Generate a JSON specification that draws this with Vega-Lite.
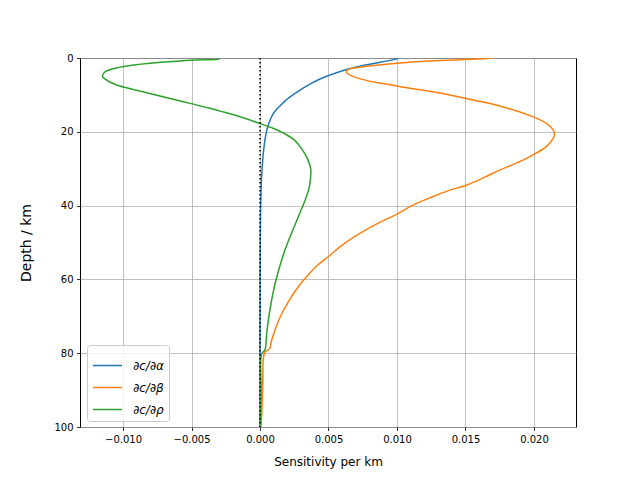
{
  "$schema": "https://vega.github.io/schema/vega-lite/v6.json",
  "width": 496,
  "height": 369,
  "autosize": {"type": "none"},
  "padding": {"left": 80, "top": 58, "right": 64, "bottom": 53},
  "background": "white",
  "config": {
    "font": "DejaVu Sans",
    "view": {"stroke": "black", "strokeWidth": 1},
    "axis": {
      "grid": true, "gridColor": "#b0b0b0", "gridWidth": 0.8,
      "domain": false, "tickColor": "black", "tickSize": 3.5, "tickWidth": 0.8,
      "labelFontSize": 10, "labelColor": "black", "labelFont": "DejaVu Sans", "labelPadding": 3.5,
      "titleFont": "DejaVu Sans", "titleFontWeight": "normal", "titleColor": "black"
    }
  },
  "datasets": {
    "curves": [
      {"s": "∂c/∂α", "d": 0, "v": 0.0101},
      {"s": "∂c/∂α", "d": 0.3, "v": 0.0099},
      {"s": "∂c/∂α", "d": 1.9, "v": 0.0077},
      {"s": "∂c/∂α", "d": 3.25, "v": 0.0062},
      {"s": "∂c/∂α", "d": 5.5, "v": 0.0045},
      {"s": "∂c/∂α", "d": 7.8, "v": 0.0033},
      {"s": "∂c/∂α", "d": 9.5, "v": 0.0026},
      {"s": "∂c/∂α", "d": 11.4, "v": 0.0019},
      {"s": "∂c/∂α", "d": 13.2, "v": 0.0014},
      {"s": "∂c/∂α", "d": 15, "v": 0.00098},
      {"s": "∂c/∂α", "d": 17.2, "v": 0.0007},
      {"s": "∂c/∂α", "d": 19.5, "v": 0.0005},
      {"s": "∂c/∂α", "d": 22.5, "v": 0.00035},
      {"s": "∂c/∂α", "d": 26.7, "v": 0.00022},
      {"s": "∂c/∂α", "d": 32, "v": 0.00012},
      {"s": "∂c/∂α", "d": 40, "v": 0.00005},
      {"s": "∂c/∂α", "d": 60, "v": 0.00001},
      {"s": "∂c/∂α", "d": 80, "v": 0},
      {"s": "∂c/∂α", "d": 100, "v": 0},
      {"s": "∂c/∂β", "d": 0, "v": 0.0170},
      {"s": "∂c/∂β", "d": 0.3, "v": 0.0158},
      {"s": "∂c/∂β", "d": 0.8, "v": 0.0124},
      {"s": "∂c/∂β", "d": 1.4, "v": 0.0100},
      {"s": "∂c/∂β", "d": 2.4, "v": 0.0075},
      {"s": "∂c/∂β", "d": 3.2, "v": 0.0064},
      {"s": "∂c/∂β", "d": 3.9, "v": 0.0063},
      {"s": "∂c/∂β", "d": 4.7, "v": 0.0066},
      {"s": "∂c/∂β", "d": 6.0, "v": 0.0077},
      {"s": "∂c/∂β", "d": 7.6, "v": 0.0100},
      {"s": "∂c/∂β", "d": 9.8, "v": 0.0136},
      {"s": "∂c/∂β", "d": 11.2, "v": 0.0153},
      {"s": "∂c/∂β", "d": 13.0, "v": 0.0175},
      {"s": "∂c/∂β", "d": 15.9, "v": 0.0199},
      {"s": "∂c/∂β", "d": 17.7, "v": 0.0209},
      {"s": "∂c/∂β", "d": 19.0, "v": 0.0213},
      {"s": "∂c/∂β", "d": 20.3, "v": 0.0215},
      {"s": "∂c/∂β", "d": 21.8, "v": 0.0214},
      {"s": "∂c/∂β", "d": 24.0, "v": 0.0209},
      {"s": "∂c/∂β", "d": 26.3, "v": 0.0199},
      {"s": "∂c/∂β", "d": 28.5, "v": 0.0187},
      {"s": "∂c/∂β", "d": 30.4, "v": 0.0175},
      {"s": "∂c/∂β", "d": 32.5, "v": 0.0163},
      {"s": "∂c/∂β", "d": 34.4, "v": 0.0151},
      {"s": "∂c/∂β", "d": 36.0, "v": 0.0137},
      {"s": "∂c/∂β", "d": 37.6, "v": 0.0126},
      {"s": "∂c/∂β", "d": 39.8, "v": 0.0112},
      {"s": "∂c/∂β", "d": 42.1, "v": 0.0101},
      {"s": "∂c/∂β", "d": 45.2, "v": 0.0084},
      {"s": "∂c/∂β", "d": 48.4, "v": 0.0069},
      {"s": "∂c/∂β", "d": 51.0, "v": 0.0059},
      {"s": "∂c/∂β", "d": 53.8, "v": 0.0050},
      {"s": "∂c/∂β", "d": 56.5, "v": 0.0041},
      {"s": "∂c/∂β", "d": 59.7, "v": 0.0033},
      {"s": "∂c/∂β", "d": 63.0, "v": 0.0026},
      {"s": "∂c/∂β", "d": 66.5, "v": 0.0020},
      {"s": "∂c/∂β", "d": 70.0, "v": 0.0015},
      {"s": "∂c/∂β", "d": 73.7, "v": 0.0011},
      {"s": "∂c/∂β", "d": 76.5, "v": 0.00085},
      {"s": "∂c/∂β", "d": 78.9, "v": 0.00068},
      {"s": "∂c/∂β", "d": 79.6, "v": 0.00036},
      {"s": "∂c/∂β", "d": 81.8, "v": 0.00024},
      {"s": "∂c/∂β", "d": 88.2, "v": 0.0002},
      {"s": "∂c/∂β", "d": 97.2, "v": 0.00012},
      {"s": "∂c/∂β", "d": 100, "v": 0.00005},
      {"s": "∂c/∂ρ", "d": 0, "v": -0.0030},
      {"s": "∂c/∂ρ", "d": 0.27, "v": -0.0030},
      {"s": "∂c/∂ρ", "d": 0.54, "v": -0.0047},
      {"s": "∂c/∂ρ", "d": 1.17, "v": -0.0072},
      {"s": "∂c/∂ρ", "d": 2.1, "v": -0.0096},
      {"s": "∂c/∂ρ", "d": 3.0, "v": -0.0108},
      {"s": "∂c/∂ρ", "d": 3.7, "v": -0.0113},
      {"s": "∂c/∂ρ", "d": 4.4, "v": -0.01145},
      {"s": "∂c/∂ρ", "d": 5.0, "v": -0.0115},
      {"s": "∂c/∂ρ", "d": 5.7, "v": -0.0113},
      {"s": "∂c/∂ρ", "d": 7.1, "v": -0.0106},
      {"s": "∂c/∂ρ", "d": 8.2, "v": -0.0096},
      {"s": "∂c/∂ρ", "d": 9.1, "v": -0.0086},
      {"s": "∂c/∂ρ", "d": 10.0, "v": -0.0076},
      {"s": "∂c/∂ρ", "d": 11.1, "v": -0.0064},
      {"s": "∂c/∂ρ", "d": 12.3, "v": -0.0051},
      {"s": "∂c/∂ρ", "d": 13.5, "v": -0.0038},
      {"s": "∂c/∂ρ", "d": 14.6, "v": -0.0027},
      {"s": "∂c/∂ρ", "d": 16.0, "v": -0.0014},
      {"s": "∂c/∂ρ", "d": 17.5, "v": -0.0002},
      {"s": "∂c/∂ρ", "d": 19.1, "v": 0.0010},
      {"s": "∂c/∂ρ", "d": 20.5, "v": 0.0018},
      {"s": "∂c/∂ρ", "d": 22.2, "v": 0.0025},
      {"s": "∂c/∂ρ", "d": 24.9, "v": 0.0031},
      {"s": "∂c/∂ρ", "d": 27.6, "v": 0.0035},
      {"s": "∂c/∂ρ", "d": 30.0, "v": 0.0037},
      {"s": "∂c/∂ρ", "d": 32.2, "v": 0.0037},
      {"s": "∂c/∂ρ", "d": 35.0, "v": 0.0036},
      {"s": "∂c/∂ρ", "d": 38.5, "v": 0.0033},
      {"s": "∂c/∂ρ", "d": 43.0, "v": 0.0028},
      {"s": "∂c/∂ρ", "d": 47.5, "v": 0.0023},
      {"s": "∂c/∂ρ", "d": 52.5, "v": 0.00178},
      {"s": "∂c/∂ρ", "d": 57.5, "v": 0.00136},
      {"s": "∂c/∂ρ", "d": 61.5, "v": 0.00108},
      {"s": "∂c/∂ρ", "d": 65.6, "v": 0.00085},
      {"s": "∂c/∂ρ", "d": 70.0, "v": 0.00065},
      {"s": "∂c/∂ρ", "d": 74.6, "v": 0.00049},
      {"s": "∂c/∂ρ", "d": 79.1, "v": 0.00036},
      {"s": "∂c/∂ρ", "d": 80.2, "v": 0.00012},
      {"s": "∂c/∂ρ", "d": 90, "v": 0.00008},
      {"s": "∂c/∂ρ", "d": 100, "v": 0.00003}
    ],
    "zero": [{"v": 0, "d": 0}, {"v": 0, "d": 100}]
  },
  "layer": [
    {
      "data": {"name": "curves"},
      "mark": {"type": "line", "strokeWidth": 1.5, "clip": true, "interpolate": "catmull-rom"},
      "encoding": {
        "x": {
          "field": "v", "type": "quantitative",
          "scale": {"domain": [-0.01314, 0.02307], "nice": false, "zero": false},
          "axis": {"values": [-0.01, -0.005, 0, 0.005, 0.01, 0.015, 0.02], "format": ".3f",
                   "title": "Sensitivity per km", "titleFontSize": 12, "titlePadding": 12}
        },
        "y": {
          "field": "d", "type": "quantitative",
          "scale": {"domain": [0, 100], "reverse": true, "nice": false},
          "axis": {"values": [0, 20, 40, 60, 80, 100], "title": "Depth / km", "titleFontSize": 14, "titlePadding": 20}
        },
        "order": {"field": "d", "type": "quantitative"},
        "color": {
          "field": "s", "type": "nominal",
          "scale": {"domain": ["∂c/∂α", "∂c/∂β", "∂c/∂ρ"], "range": ["#1f77b4", "#ff7f0e", "#2ca02c"]},
          "legend": {
            "title": null, "orient": "none", "legendX": 7, "legendY": 287,
            "symbolType": "stroke", "symbolSize": 841, "symbolStrokeWidth": 1.5,
            "labelFontSize": 12, "labelFontStyle": "italic", "labelColor": "black",
            "rowPadding": -5.5, "padding": 5, "strokeColor": "#cccccc", "fillColor": "rgba(255,255,255,0.8)",
            "cornerRadius": 3, "labelOffset": 10
          }
        }
      }
    },
    {
      "data": {"name": "zero"},
      "mark": {"type": "line", "color": "black", "strokeWidth": 1.5, "strokeDash": [1.5, 2.5]},
      "encoding": {
        "x": {"field": "v", "type": "quantitative"},
        "y": {"field": "d", "type": "quantitative"}
      }
    }
  ]
}
